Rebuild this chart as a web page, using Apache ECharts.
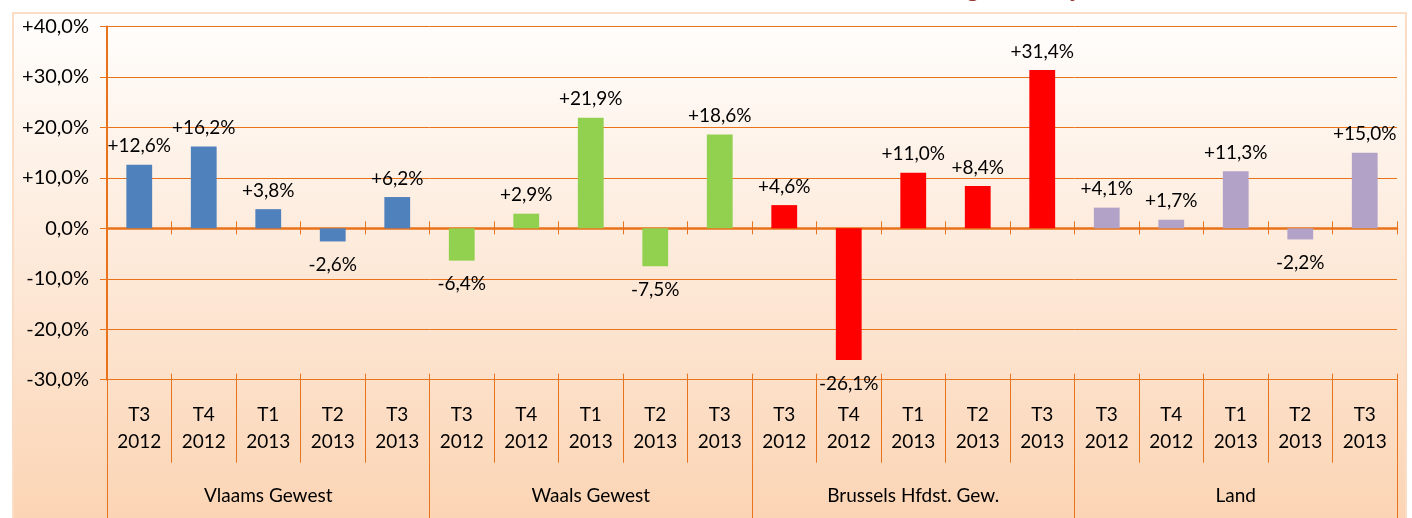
<!DOCTYPE html>
<html><head><meta charset="utf-8">
<script src="https://cdn.jsdelivr.net/npm/echarts@6/dist/echarts.min.js"></script>
<style>html,body{margin:0;padding:0;background:#fff}#c{width:1412px;height:518px}</style>
</head><body><div id="c"></div>
<script>
// ---- data ----
const quarters = ['T3\n2012', 'T4\n2012', 'T1\n2013', 'T2\n2013', 'T3\n2013'];
const regions = ['Vlaams Gewest', 'Waals Gewest', 'Brussels Hfdst. Gew.', 'Land'];
const vlaams  = [12.6, 16.2, 3.8, -2.6, 6.2];
const waals   = [-6.4, 2.9, 21.9, -7.5, 18.6];
const brussel = [4.6, -26.1, 11.0, 8.4, 31.4];
const land    = [4.1, 1.7, 11.3, -2.2, 15.0];
const yMin = -30, yMax = 40, yInterval = 10;
const titleText = 'Evolutie van de omzet: groei in 1 jaar';

// ---- styling ----
const regionColors = ['#4f81bd', '#92d050', '#ff0000', '#b3a2c7'];
const orange = '#e8731a';
const font = 'Lato';

const seriesByRegion = [vlaams, waals, brussel, land];
const categories = [];
const barData = [];
regions.forEach((r, ri) => {
  quarters.forEach((q, qi) => {
    categories.push(r + '|' + q);
    const v = seriesByRegion[ri][qi];
    barData.push({
      value: v,
      itemStyle: { color: regionColors[ri] },
      label: v < 0 ? { position: 'bottom', distance: 14 } : { position: 'top', distance: 9 }
    });
  });
});

function pct(v) {
  const s = Math.abs(v).toFixed(1).replace('.', ',') + '%';
  if (v > 0) return '+' + s;
  if (v < 0) return '-' + s;
  return s;
}

const chart = echarts.init(document.getElementById('c'));
const catAxisBase = {
  type: 'category', data: categories, position: 'bottom',
  axisLabel: { show: false }, splitLine: { show: false }
};
chart.setOption({
  backgroundColor: '#ffffff',
  animation: false,
  title: {
    text: titleText, left: 714, top: -28,
    textStyle: { color: '#953735', fontFamily: font, fontSize: 24, fontWeight: 'bold' }
  },
  graphic: [{
    type: 'rect', z: -100, silent: true,
    shape: { x: 13, y: 13, width: 1393, height: 520 },
    style: {
      fill: new echarts.graphic.LinearGradient(0, 0, 0, 1, [
        { offset: 0, color: '#fffefd' },
        { offset: 1, color: '#fbd3b2' }
      ]),
      stroke: '#fbdcc4', lineWidth: 2
    }
  }],
  grid: { left: 107, right: 15, top: 26.5, bottom: 138.3, containLabel: false, outerBoundsMode: 'none' },
  yAxis: {
    type: 'value', min: yMin, max: yMax, interval: yInterval,
    axisLine: { show: true, lineStyle: { color: orange, width: 2 } },
    axisTick: { show: true, length: 7, lineStyle: { color: orange, width: 1 } },
    splitLine: { show: true, lineStyle: { color: orange, width: 1 } },
    axisLabel: { fontFamily: font, fontSize: 20, color: '#000', margin: 18, formatter: pct }
  },
  xAxis: [
    Object.assign({}, catAxisBase, {
      axisLine: { show: true, onZero: false, lineStyle: { color: orange, width: 1 } },
      axisTick: { show: true, interval: 0, length: 83, lineStyle: { color: orange, width: 1 } },
      axisLabel: {
        show: true, interval: 0, margin: 22, lineHeight: 27,
        fontFamily: font, fontSize: 19, color: '#000',
        formatter: (v) => v.split('|')[1]
      }
    }),
    {
      type: 'category', data: regions, position: 'bottom', offset: 83,
      axisLine: { show: false, onZero: false },
      axisTick: { show: true, interval: 0, length: 60, lineStyle: { color: orange, width: 1 } },
      axisLabel: { show: true, interval: 0, margin: 24, fontFamily: font, fontSize: 19, color: '#000' },
      splitLine: { show: false }
    },
    Object.assign({}, catAxisBase, {
      axisLine: { show: true, onZero: true, onZeroAxisIndex: 0, lineStyle: { color: orange, width: 2.5 } },
      axisTick: { show: true, inside: true, interval: 0, length: 7, lineStyle: { color: orange, width: 1 } }
    }),
    Object.assign({}, catAxisBase, {
      axisLine: { show: false, onZero: true, onZeroAxisIndex: 0 },
      axisTick: { show: true, inside: false, interval: 0, length: 6, lineStyle: { color: orange, width: 1 } }
    }),
    Object.assign({}, catAxisBase, {
      axisLine: { show: false, onZero: false },
      axisTick: { show: true, inside: true, interval: 0, length: 6, lineStyle: { color: orange, width: 1 } }
    })
  ],
  series: [{
    type: 'bar', xAxisIndex: 0, yAxisIndex: 0,
    barWidth: '40%',
    data: barData,
    label: {
      show: true, fontFamily: font, fontSize: 19, color: '#000',
      formatter: (p) => pct(p.value)
    }
  }]
});
</script>
</body></html>
